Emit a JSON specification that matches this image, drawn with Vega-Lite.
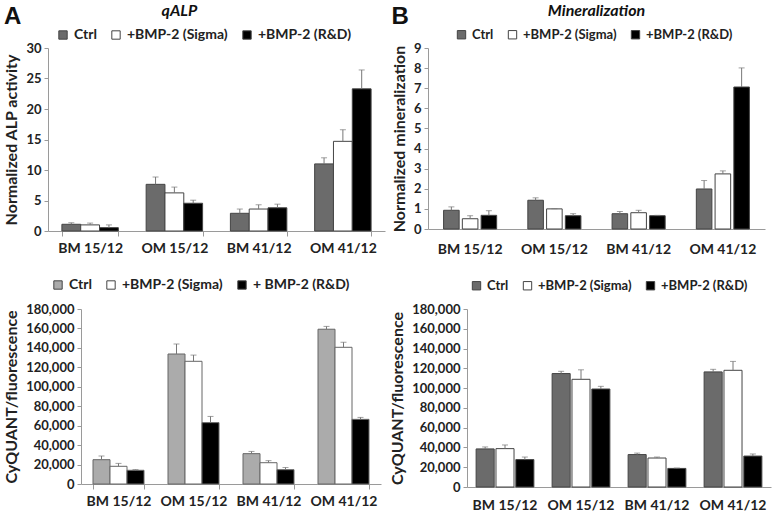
{
  "$schema": "https://vega.github.io/schema/vega-lite/v6.json",
  "background": "white",
  "padding": {"left": 2, "top": 3, "right": 2, "bottom": 2},
  "datasets": {
    "alp": [
      {"group": "BM 15/12", "treatment": "Ctrl", "value": 1.1, "upper": 1.35},
      {"group": "BM 15/12", "treatment": "+BMP-2 (Sigma)", "value": 1.0, "upper": 1.3},
      {"group": "BM 15/12", "treatment": "+BMP-2 (R&D)", "value": 0.55, "upper": 1.0},
      {"group": "OM 15/12", "treatment": "Ctrl", "value": 7.65, "upper": 8.85},
      {"group": "OM 15/12", "treatment": "+BMP-2 (Sigma)", "value": 6.25, "upper": 7.2},
      {"group": "OM 15/12", "treatment": "+BMP-2 (R&D)", "value": 4.55, "upper": 5.05},
      {"group": "BM 41/12", "treatment": "Ctrl", "value": 2.9, "upper": 3.6},
      {"group": "BM 41/12", "treatment": "+BMP-2 (Sigma)", "value": 3.6, "upper": 4.3},
      {"group": "BM 41/12", "treatment": "+BMP-2 (R&D)", "value": 3.8, "upper": 4.4},
      {"group": "OM 41/12", "treatment": "Ctrl", "value": 11.0, "upper": 12.0},
      {"group": "OM 41/12", "treatment": "+BMP-2 (Sigma)", "value": 14.7, "upper": 16.6},
      {"group": "OM 41/12", "treatment": "+BMP-2 (R&D)", "value": 23.3, "upper": 26.4}
    ],
    "mineral": [
      {"group": "BM 15/12", "treatment": "Ctrl", "value": 0.93, "upper": 1.1},
      {"group": "BM 15/12", "treatment": "+BMP-2 (Sigma)", "value": 0.51, "upper": 0.66},
      {"group": "BM 15/12", "treatment": "+BMP-2 (R&D)", "value": 0.68, "upper": 0.91},
      {"group": "OM 15/12", "treatment": "Ctrl", "value": 1.43, "upper": 1.55},
      {"group": "OM 15/12", "treatment": "+BMP-2 (Sigma)", "value": 1.0, "upper": 1.01},
      {"group": "OM 15/12", "treatment": "+BMP-2 (R&D)", "value": 0.66, "upper": 0.76},
      {"group": "BM 41/12", "treatment": "Ctrl", "value": 0.76, "upper": 0.87},
      {"group": "BM 41/12", "treatment": "+BMP-2 (Sigma)", "value": 0.81, "upper": 0.93},
      {"group": "BM 41/12", "treatment": "+BMP-2 (R&D)", "value": 0.66, "upper": 0.68},
      {"group": "OM 41/12", "treatment": "Ctrl", "value": 1.99, "upper": 2.41},
      {"group": "OM 41/12", "treatment": "+BMP-2 (Sigma)", "value": 2.74, "upper": 2.89},
      {"group": "OM 41/12", "treatment": "+BMP-2 (R&D)", "value": 7.06, "upper": 8.01}
    ],
    "cqA": [
      {"group": "BM 15/12", "treatment": "Ctrl", "value": 25000, "upper": 28800},
      {"group": "BM 15/12", "treatment": "+BMP-2 (Sigma)", "value": 18200, "upper": 21200},
      {"group": "BM 15/12", "treatment": "+ BMP-2 (R&D)", "value": 14100, "upper": 14800},
      {"group": "OM 15/12", "treatment": "Ctrl", "value": 133700, "upper": 144000},
      {"group": "OM 15/12", "treatment": "+BMP-2 (Sigma)", "value": 126200, "upper": 132600},
      {"group": "OM 15/12", "treatment": "+ BMP-2 (R&D)", "value": 63100, "upper": 69500},
      {"group": "BM 41/12", "treatment": "Ctrl", "value": 31200, "upper": 33500},
      {"group": "BM 41/12", "treatment": "+BMP-2 (Sigma)", "value": 21900, "upper": 24000},
      {"group": "BM 41/12", "treatment": "+ BMP-2 (R&D)", "value": 14700, "upper": 17000},
      {"group": "OM 41/12", "treatment": "Ctrl", "value": 159200, "upper": 162100},
      {"group": "OM 41/12", "treatment": "+BMP-2 (Sigma)", "value": 140600, "upper": 145800},
      {"group": "OM 41/12", "treatment": "+ BMP-2 (R&D)", "value": 66500, "upper": 68500}
    ],
    "cqB": [
      {"group": "BM 15/12", "treatment": "Ctrl", "value": 38500, "upper": 40500},
      {"group": "BM 15/12", "treatment": "+BMP-2 (Sigma)", "value": 38800, "upper": 42500},
      {"group": "BM 15/12", "treatment": "+BMP-2 (R&D)", "value": 27700, "upper": 30300},
      {"group": "OM 15/12", "treatment": "Ctrl", "value": 114700, "upper": 117000},
      {"group": "OM 15/12", "treatment": "+BMP-2 (Sigma)", "value": 108900, "upper": 118500},
      {"group": "OM 15/12", "treatment": "+BMP-2 (R&D)", "value": 99100, "upper": 101800},
      {"group": "BM 41/12", "treatment": "Ctrl", "value": 32800, "upper": 34300},
      {"group": "BM 41/12", "treatment": "+BMP-2 (Sigma)", "value": 29300, "upper": 30300},
      {"group": "BM 41/12", "treatment": "+BMP-2 (R&D)", "value": 18800, "upper": 19200},
      {"group": "OM 41/12", "treatment": "Ctrl", "value": 116400, "upper": 119000},
      {"group": "OM 41/12", "treatment": "+BMP-2 (Sigma)", "value": 118000, "upper": 127000},
      {"group": "OM 41/12", "treatment": "+BMP-2 (R&D)", "value": 31300, "upper": 33400}
    ]
  },
  "resolve": {"scale": {"color": "independent", "xOffset": "independent"}, "legend": {"color": "independent"}},
  "spacing": 22,
  "vconcat": [
    {
      "resolve": {"scale": {"color": "independent", "xOffset": "independent"}, "legend": {"color": "independent"}},
      "spacing": 0,
      "hconcat": [
        {"width": 1, "height": 1, "data": {"values": []}, "mark": {"type": "point", "opacity": 0}, "encoding": {}},
        {
          "resolve": {"scale": {"color": "independent", "xOffset": "independent"}, "legend": {"color": "independent"}},
          "spacing": 6,
          "hconcat": [
            {
              "title": {"text": "A", "anchor": "start", "frame": "bounds", "offset": -26, "fontSize": 24, "font": "Liberation Sans", "fontWeight": "bold", "color": "#111"},
              "resolve": {"scale": {"color": "independent", "xOffset": "independent"}, "legend": {"color": "independent"}},
              "vconcat": [
                {
                  "width": 337, "height": 183,
                  "title": {"text": "qALP", "dx": -37, "offset": 9, "fontStyle": "italic"},
                  "data": {"name": "alp"},
                  "encoding": {
                    "x": {"field": "group", "type": "nominal", "sort": ["BM 15/12", "OM 15/12", "BM 41/12", "OM 41/12"], "scale": {"paddingInner": 0.33, "paddingOuter": 0.165}, "axis": {"title": null, "labelAngle": 0, "tickBand": "extent", "ticks": true, "tickSize": 5, "labelPadding": 5}},
                    "xOffset": {"field": "treatment", "type": "nominal", "scale": {"domain": ["Ctrl", "+BMP-2 (Sigma)", "+BMP-2 (R&D)"], "paddingInner": 0, "paddingOuter": 0}},
                    "y": {"field": "value", "type": "quantitative", "scale": {"domain": [0, 30]}, "axis": {"title": "Normalized ALP activity", "values": [0, 5, 10, 15, 20, 25, 30]}}
                  },
                  "layer": [
                    {
                      "mark": {"type": "bar", "stroke": "#444", "strokeWidth": 1},
                      "encoding": {
                        "color": {"field": "treatment", "type": "nominal", "scale": {"domain": ["Ctrl", "+BMP-2 (Sigma)", "+BMP-2 (R&D)"], "range": ["#6b6b6b", "#ffffff", "#000000"]}, "legend": {"orient": "none", "legendX": 8, "legendY": -20, "columnPadding": 12}}
                      }
                    },
                    {"mark": {"type": "rule", "color": "#777", "strokeWidth": 1}, "encoding": {"y2": {"field": "upper"}}},
                    {"mark": {"type": "tick", "color": "#777", "size": 6, "thickness": 1}, "encoding": {"y": {"field": "upper", "type": "quantitative", "axis": {"title": "Normalized ALP activity", "values": [0, 5, 10, 15, 20, 25, 30]}}}}
                  ]
                }
              ]
            },
            {
              "title": {"text": "B", "anchor": "start", "frame": "bounds", "offset": -26, "fontSize": 24, "font": "Liberation Sans", "fontWeight": "bold", "color": "#111"},
              "resolve": {"scale": {"color": "independent", "xOffset": "independent"}, "legend": {"color": "independent"}},
              "vconcat": [
                {
                  "width": 337, "height": 181,
                  "title": {"text": "Mineralization", "offset": 9, "fontStyle": "italic"},
                  "data": {"name": "mineral"},
                  "encoding": {
                    "x": {"field": "group", "type": "nominal", "sort": ["BM 15/12", "OM 15/12", "BM 41/12", "OM 41/12"], "scale": {"paddingInner": 0.37, "paddingOuter": 0.185}, "axis": {"title": null, "labelAngle": 0, "ticks": false, "labelPadding": 13}},
                    "xOffset": {"field": "treatment", "type": "nominal", "scale": {"domain": ["Ctrl", "+BMP-2 (Sigma)", "+BMP-2 (R&D)"], "paddingInner": 0.17, "paddingOuter": 0}},
                    "y": {"field": "value", "type": "quantitative", "scale": {"domain": [0, 9]}, "axis": {"title": "Normalized mineralization", "values": [0, 1, 2, 3, 4, 5, 6, 7, 8, 9]}}
                  },
                  "layer": [
                    {
                      "mark": {"type": "bar", "stroke": "#444", "strokeWidth": 1},
                      "encoding": {
                        "color": {"field": "treatment", "type": "nominal", "scale": {"domain": ["Ctrl", "+BMP-2 (Sigma)", "+BMP-2 (R&D)"], "range": ["#6b6b6b", "#ffffff", "#000000"]}, "legend": {"orient": "none", "legendX": 27, "legendY": -20, "labelFontSize": 13, "columnPadding": 12}}
                      }
                    },
                    {"mark": {"type": "rule", "color": "#777", "strokeWidth": 1}, "encoding": {"y2": {"field": "upper"}}},
                    {"mark": {"type": "tick", "color": "#777", "size": 6, "thickness": 1}, "encoding": {"y": {"field": "upper", "type": "quantitative", "axis": {"title": "Normalized mineralization", "values": [0, 1, 2, 3, 4, 5, 6, 7, 8, 9]}}}}
                  ]
                }
              ]
            }
          ]
        }
      ]
    },
    {
      "resolve": {"scale": {"color": "independent", "xOffset": "independent"}, "legend": {"color": "independent"}},
      "spacing": 0,
      "hconcat": [
        {"width": 1, "height": 1, "data": {"values": []}, "mark": {"type": "point", "opacity": 0}, "encoding": {}},
        {
          "resolve": {"scale": {"color": "independent", "xOffset": "independent"}, "legend": {"color": "independent"}},
          "spacing": 8,
          "hconcat": [
            {
              "width": 300, "height": 175,
              "data": {"name": "cqA"},
              "encoding": {
                "x": {"field": "group", "type": "nominal", "sort": ["BM 15/12", "OM 15/12", "BM 41/12", "OM 41/12"], "scale": {"paddingInner": 0.32, "paddingOuter": 0.16}, "axis": {"title": null, "labelAngle": 0, "tickBand": "extent", "ticks": true, "tickSize": 5, "labelPadding": 5}},
                "xOffset": {"field": "treatment", "type": "nominal", "scale": {"domain": ["Ctrl", "+BMP-2 (Sigma)", "+ BMP-2 (R&D)"], "paddingInner": 0, "paddingOuter": 0}},
                "y": {"field": "value", "type": "quantitative", "scale": {"domain": [0, 180000]}, "axis": {"title": "CyQUANT/fluorescence", "values": [0, 20000, 40000, 60000, 80000, 100000, 120000, 140000, 160000, 180000], "format": ",d"}}
              },
              "layer": [
                {
                  "mark": {"type": "bar", "stroke": "#666", "strokeWidth": 1},
                  "encoding": {
                    "color": {"field": "treatment", "type": "nominal", "scale": {"domain": ["Ctrl", "+BMP-2 (Sigma)", "+ BMP-2 (R&D)"], "range": ["#ababab", "#ffffff", "#000000"]}, "legend": {"orient": "none", "legendX": -30, "legendY": -31, "columnPadding": 12}}
                  }
                },
                {"mark": {"type": "rule", "color": "#777", "strokeWidth": 1}, "encoding": {"y2": {"field": "upper"}}},
                {"mark": {"type": "tick", "color": "#777", "size": 6, "thickness": 1}, "encoding": {"y": {"field": "upper", "type": "quantitative", "axis": {"title": "CyQUANT/fluorescence", "values": [0, 20000, 40000, 60000, 80000, 100000, 120000, 140000, 160000, 180000], "format": ",d"}}}}
              ]
            },
            {
              "width": 304, "height": 178,
              "data": {"name": "cqB"},
              "encoding": {
                "x": {"field": "group", "type": "nominal", "sort": ["BM 15/12", "OM 15/12", "BM 41/12", "OM 41/12"], "scale": {"paddingInner": 0.24, "paddingOuter": 0.12}, "axis": {"title": null, "labelAngle": 0, "ticks": false, "labelPadding": 11}},
                "xOffset": {"field": "treatment", "type": "nominal", "scale": {"domain": ["Ctrl", "+BMP-2 (Sigma)", "+BMP-2 (R&D)"], "paddingInner": 0.09, "paddingOuter": 0}},
                "y": {"field": "value", "type": "quantitative", "scale": {"domain": [0, 180000]}, "axis": {"title": "CyQUANT/fluorescence", "values": [0, 20000, 40000, 60000, 80000, 100000, 120000, 140000, 160000, 180000], "format": ",d"}}
              },
              "layer": [
                {
                  "mark": {"type": "bar", "stroke": "#444", "strokeWidth": 1},
                  "encoding": {
                    "color": {"field": "treatment", "type": "nominal", "scale": {"domain": ["Ctrl", "+BMP-2 (Sigma)", "+BMP-2 (R&D)"], "range": ["#6b6b6b", "#ffffff", "#000000"]}, "legend": {"orient": "none", "legendX": 3, "legendY": -30, "labelFontSize": 13, "columnPadding": 12}}
                  }
                },
                {"mark": {"type": "rule", "color": "#777", "strokeWidth": 1}, "encoding": {"y2": {"field": "upper"}}},
                {"mark": {"type": "tick", "color": "#777", "size": 6, "thickness": 1}, "encoding": {"y": {"field": "upper", "type": "quantitative", "axis": {"title": "CyQUANT/fluorescence", "values": [0, 20000, 40000, 60000, 80000, 100000, 120000, 140000, 160000, 180000], "format": ",d"}}}}
              ]
            }
          ]
        }
      ]
    }
  ],
  "config": {
    "view": {"stroke": null},
    "font": "Lato",
    "title": {"font": "Lato", "fontSize": 16, "fontWeight": "bold", "color": "#111", "anchor": "middle", "frame": "group"},
    "axis": {"labelFont": "Lato", "labelFontWeight": "bold", "labelFontSize": 14, "labelColor": "#222", "labelOverlap": false, "domainColor": "#9a9a9a", "tickColor": "#9a9a9a", "titleFont": "Lato", "titleFontSize": 16, "titleFontWeight": "bold", "titleColor": "#222", "grid": false},
    "axisY": {"tickSize": 4, "labelPadding": 3, "titlePadding": 6, "labelFontSize": 13},
    "legend": {"direction": "horizontal", "title": null, "labelFont": "Lato", "labelFontWeight": "bold", "labelFontSize": 14, "labelColor": "#222", "symbolType": "square", "symbolSize": 70, "symbolStrokeColor": "#444", "symbolStrokeWidth": 1, "columnPadding": 15, "labelOffset": 4}
  }
}
